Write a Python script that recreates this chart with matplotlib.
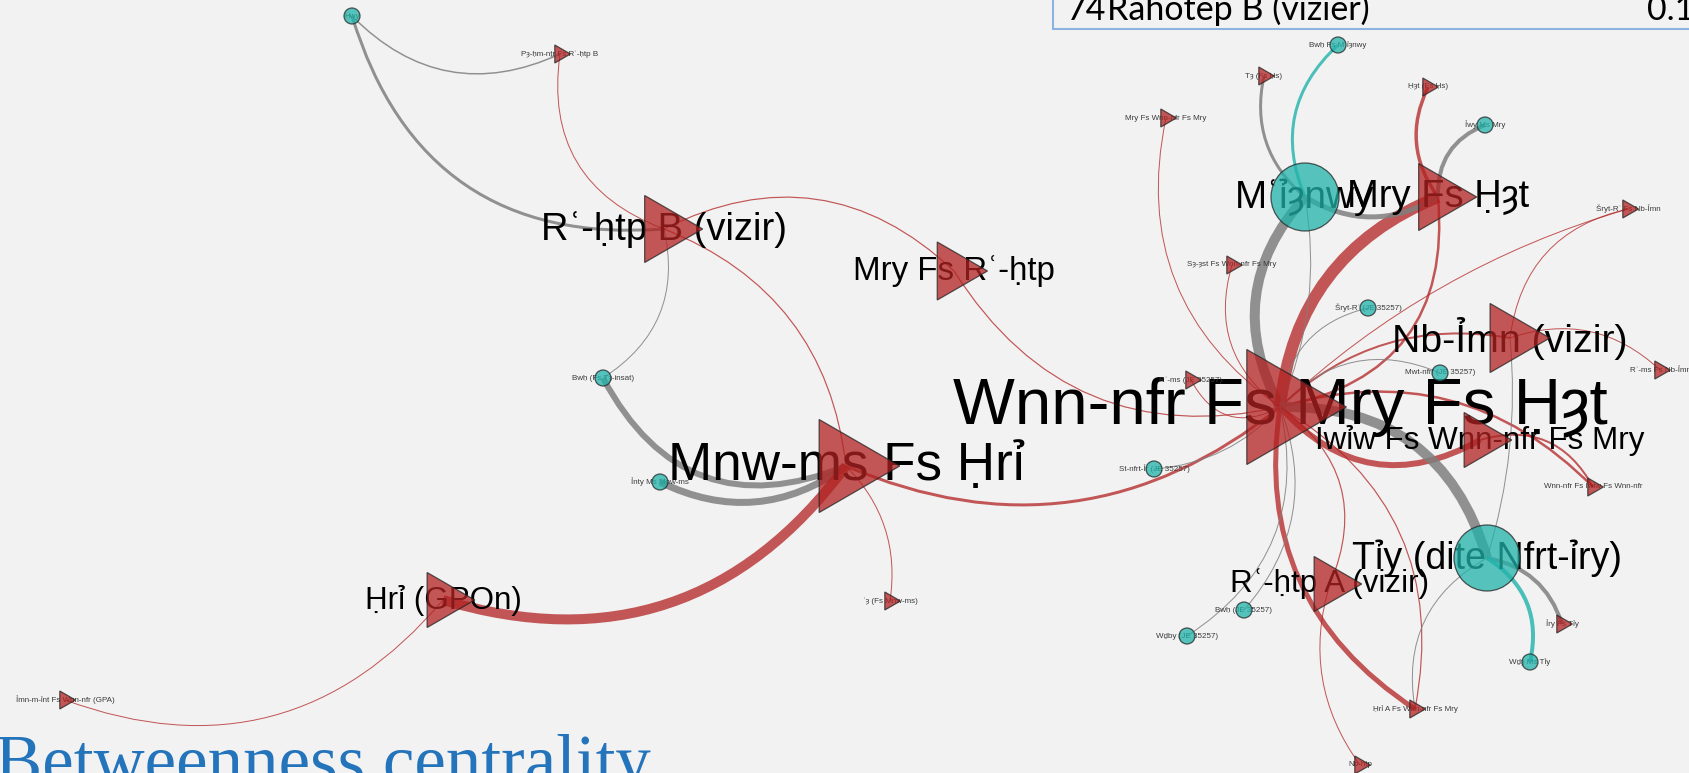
import matplotlib.pyplot as plt
from matplotlib.path import Path
from matplotlib.patches import PathPatch, Polygon, Circle, Rectangle

plt.rcParams['font.family'] = ['Liberation Sans', 'DejaVu Sans']

# Nodes (layout position in pixels, shape, node size)
names = [
    "Ḥwy", "Pȝ-ḥm-nṯr Fs Rʿ-ḥtp B", "Rʿ-ḥtp B (vizir)", "Mry Fs Rʿ-ḥtp", "Bwḥ (Fs Tȝ-insat)",
    "Ỉnty Ms Mnw-ms", "Mnw-ms Fs Ḥrỉ", "Ḥrỉ (GPOn)", "Ỉmn-m-ỉnt Fs Wnn-nfr (GPA)", "ʿȝ (Fs Mnw-ms)",
    "Wnn-nfr Fs Mry Fs Ḥȝt", "Mʿỉȝnwy", "Mry Fs Ḥȝt", "Bwḥ Fs Mʿỉȝnwy", "Tȝ (Fs Ḥs)",
    "Ḥȝt (Fs Ḥs)", "Ỉwy Ms Mry", "Mry Fs Wnn-nfr Fs Mry", "Šryt-Rʿ Fs Nb-Ỉmn", "Sȝ-ȝst Fs Wnn-nfr Fs Mry",
    "Šryt-Rʿ (JE 35257)", "Nb-Ỉmn (vizir)", "Rʿ-ms Fs Nb-Ỉmn", "Rʿ-ms (JE 35257)", "Mwt-nfrt (JE 35257)",
    "Iwỉw Fs Wnn-nfr Fs Mry", "Wnn-nfr Fs Iwỉw Fs Wnn-nfr", "St-nfrt-Ỉr (JE 35257)", "Tỉy (dite Nfrt-ỉry)",
    "Rʿ-ḥtp A (vizir)", "Bwḥ (JE 35257)", "Wḏby (JE 35257)", "Ỉry Fs Tỉy", "Wḏȝ Ms Tỉy",
    "Ḥrỉ A Fs Wnn-nfr Fs Mry", "Nb-ḥtp",
]
node_x = [352, 560, 664, 954, 603, 660, 846, 443, 65, 890,
          1280, 1305, 1438, 1338, 1264, 1428, 1485, 1166, 1628, 1232,
          1368, 1510, 1660, 1191, 1440, 1480, 1593, 1154, 1487, 1330,
          1244, 1187, 1562, 1530, 1415, 1360]
node_y = [16, 54, 229, 271, 378, 482, 466, 600, 700, 601,
          407, 197, 197, 45, 76, 87, 125, 118, 209, 265,
          308, 338, 370, 380, 373, 440, 487, 469, 558, 584,
          610, 636, 624, 662, 709, 765]
# 'o' = circle, '>' = triangle
node_kind = ['o', '>', '>', '>', 'o', 'o', '>', '>', '>', '>',
             '>', 'o', '>', 'o', '>', '>', 'o', '>', '>', '>',
             'o', '>', '>', '>', 'o', '>', '>', 'o', 'o', '>',
             'o', 'o', '>', 'o', '>', '>']
node_size = [16, 18, 67, 58, 16, 16, 93, 55, 18, 18,
             115, 68, 67, 16, 18, 18, 16, 18, 18, 18,
             16, 69, 18, 18, 16, 55, 18, 16, 66, 55,
             16, 16, 18, 16, 18, 18]

# Edges: source, target, weight, bend
edges = [
    (0, 2, 3, 0.4), (0, 1, 1.5, 0.35), (1, 2, 1, 0.4), (3, 2, 1.2, 0.35),
    (3, 10, 1.2, 0.35), (6, 2, 1.2, 0.3), (4, 2, 1, 0.35), (4, 6, 6, 0.45),
    (5, 6, 7, 0.3), (7, 6, 10, 0.35), (8, 7, 1, 0.35), (9, 6, 1, 0.25),
    (6, 10, 3, 0.3), (11, 10, 10, 0.35), (12, 10, 12, 0.3), (11, 12, 5, 0.3),
    (13, 11, 3, 0.35), (14, 11, 3, 0.3), (15, 12, 3.5, 0.3), (10, 12, 2.5, 0.45),
    (16, 12, 4, 0.35), (17, 10, 1, 0.33), (19, 10, 1, 0.35), (20, 10, 1, 0.35),
    (21, 10, 2, 0.25), (18, 21, 1, 0.35), (18, 10, 1, 0.12), (22, 21, 1, 0.3),
    (23, 10, 1, 0.5), (24, 10, 1, 0.35), (10, 25, 6, 0.4), (26, 25, 2, 0.4),
    (26, 10, 2.5, 0.3), (28, 10, 10, 0.38), (32, 28, 4, 0.3), (33, 28, 4, 0.35),
    (29, 10, 1.2, 0.4), (10, 34, 5, 0.32), (34, 10, 1.2, 0.35), (29, 35, 1, 0.25),
    (30, 10, 1, 0.3), (31, 10, 1, 0.35), (27, 10, 1, 0.2), (28, 34, 1, 0.35),
    (28, 21, 1, 0.1), (10, 11, 1, 0.15),
]
edge_src = [e[0] for e in edges]
edge_dst = [e[1] for e in edges]
edge_w = [e[2] for e in edges]
edge_bend = [e[3] for e in edges]

red = '#B22222'
teal = '#20B2AA'
grey = '#7F7F7F'
bg = '#F2F2F2'

fig = plt.figure(figsize=(16.9, 7.73), dpi=100)
fig.patch.set_facecolor(bg)
ax = fig.add_axes([0, 0, 1, 1])
ax.set_facecolor(bg)
ax.set_xlim(0, 1690)
ax.set_ylim(773, 0)
ax.axis('off')

# curved edges (quadratic, clockwise from source to target)
for s, t, w, b in zip(edge_src, edge_dst, edge_w, edge_bend):
    x0, y0, x1, y1 = node_x[s], node_y[s], node_x[t], node_y[t]
    dx, dy = x1 - x0, y1 - y0
    cx = (x0 + x1) / 2 - b * dy
    cy = (y0 + y1) / 2 + b * dx
    if node_kind[s] == '>' and node_kind[t] == '>':
        col, al = red, 0.75
    elif node_kind[s] == 'o' and node_kind[t] == 'o':
        col, al = teal, 0.8
    else:
        col, al = grey, 0.85
    p = Path([(x0, y0), (cx, cy), (x1, y1)], [Path.MOVETO, Path.CURVE3, Path.CURVE3])
    ax.add_patch(PathPatch(p, fill=False, edgecolor=col, alpha=al, lw=w * 0.72,
                           capstyle='butt', zorder=1))

# labels
for name, x, y, sz in zip(names, node_x, node_y, node_size):
    if sz > 30:
        ax.text(x, y, name, fontsize=sz * 0.41, ha='center', va='center',
                color='black', zorder=2)
    else:
        ax.text(x, y, name, fontsize=5.8, ha='center', va='center',
                color='#3a3a3a', zorder=2)

# nodes
for x, y, k, sz in zip(node_x, node_y, node_kind, node_size):
    if k == '>':
        w = sz * 0.866
        tri = Polygon([(x - w / 3, y - sz / 2), (x - w / 3, y + sz / 2), (x + 2 * w / 3, y)],
                      closed=True, facecolor=red, alpha=0.75, edgecolor='#222222',
                      lw=0.9, zorder=3)
        ax.add_patch(tri)
    else:
        ax.add_patch(Circle((x, y), sz / 2, facecolor=teal, alpha=0.75,
                            edgecolor='#222222', lw=0.9, zorder=3))

# table row at top right
ax.add_patch(Rectangle((1053, -20), 700, 49, facecolor=bg, edgecolor='#8DB3E2',
                       lw=1.5, zorder=4))
ax.text(1066, 20, "74", fontsize=24.5, family='Lato', ha='left', va='baseline', zorder=5)
ax.text(1107, 20, "Rahotep B (vizier)", fontsize=24.5, family='Lato', ha='left',
        va='baseline', zorder=5)
ax.text(1647, 20, "0.1", fontsize=24.5, family='Lato', ha='left', va='baseline', zorder=5)

# slide title
ax.text(-5, 784, "Betweenness centrality", fontsize=51, family='Liberation Serif',
        color='#2474BC', ha='left', va='baseline', zorder=5)

fig.savefig("out.png", dpi=100, facecolor=bg)
